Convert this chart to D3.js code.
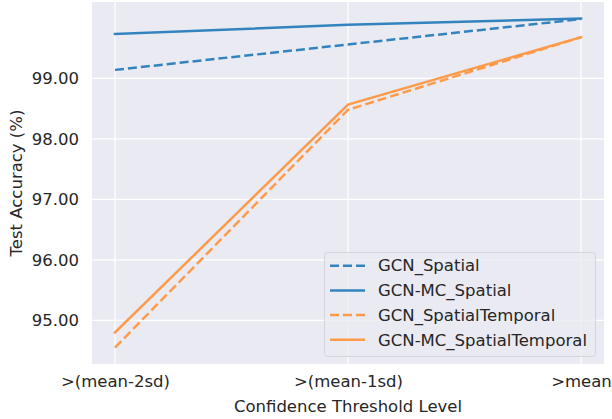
<!DOCTYPE html>
<html><head><meta charset="utf-8">
<script src="https://cdn.jsdelivr.net/npm/d3@7"></script>
<style>body{margin:0;background:#fff}svg{display:block}text{font-family:"DejaVu Sans",sans-serif;fill:#262626}</style>
</head><body><svg id="c" width="612" height="419"></svg>
<script>
const categories = [">(mean-2sd)", ">(mean-1sd)", ">mean"];
const seriesNames = ["GCN_Spatial", "GCN-MC_Spatial", "GCN_SpatialTemporal", "GCN-MC_SpatialTemporal"];
const gcnSpatial = [99.14, 99.56, 99.98];
const gcnMcSpatial = [99.735, 99.885, 99.99];
const gcnSpatialTemporal = [94.55, 98.48, 99.68];
const gcnMcSpatialTemporal = [94.80, 98.565, 99.68];
const yTicks = [95, 96, 97, 98, 99];

const series = [
  {name: seriesNames[0], values: gcnSpatial, color: "#3283be", dash: "9,4"},
  {name: seriesNames[1], values: gcnMcSpatial, color: "#3283be", dash: null},
  {name: seriesNames[2], values: gcnSpatialTemporal, color: "#fd9b4b", dash: "9,4"},
  {name: seriesNames[3], values: gcnMcSpatialTemporal, color: "#fd9b4b", dash: null}
];

const svg = d3.select("#c");
const L = 92, R = 604, T = 2, B = 364;
const x = d3.scalePoint().domain(categories).range([115, 581]);
const all = series.flatMap(s => s.values);
const mn = d3.min(all), mx = d3.max(all), pad = (mx - mn) * 0.05;
const y = d3.scaleLinear().domain([mn - pad, mx + pad]).range([B, T]);

svg.append("rect").attr("x", L).attr("y", T).attr("width", R - L).attr("height", B - T).attr("fill", "#eaeaf2");

const g = svg.append("g");
g.selectAll(".gy").data(yTicks).join("line")
  .attr("x1", L).attr("x2", R).attr("y1", d => y(d)).attr("y2", d => y(d))
  .attr("stroke", "#fff").attr("stroke-width", 1.2);
g.selectAll(".gx").data(categories).join("line")
  .attr("y1", T).attr("y2", B).attr("x1", d => x(d)).attr("x2", d => x(d))
  .attr("stroke", "#fff").attr("stroke-width", 1.2);

// axes (tick labels only)
const yAxis = d3.axisLeft(y).tickValues(yTicks).tickFormat(d3.format(".2f")).tickSize(0).tickPadding(13);
const ya = svg.append("g").attr("transform", `translate(${L},0)`).call(yAxis);
ya.select(".domain").remove();
ya.selectAll("text").attr("font-size", 16.5).attr("fill", "#262626").attr("font-family", "DejaVu Sans");

const xAxis = d3.axisBottom(x).tickSize(0).tickPadding(11);
const xa = svg.append("g").attr("transform", `translate(0,${B})`).call(xAxis);
xa.select(".domain").remove();
xa.selectAll("text").attr("font-size", 16.5).attr("fill", "#262626").attr("font-family", "DejaVu Sans");

svg.append("text").attr("x", 348).attr("y", 412).attr("text-anchor", "middle").attr("font-size", 16.5).text("Confidence Threshold Level");
svg.append("text").attr("transform", "translate(22,183) rotate(-90)").attr("text-anchor", "middle").attr("font-size", 16.5).text("Test Accuracy (%)");

const line = d3.line().x((d, i) => x(categories[i])).y(d => y(d));
series.forEach(s => {
  svg.append("path").attr("d", line(s.values)).attr("fill", "none")
    .attr("stroke", s.color).attr("stroke-width", 2.5)
    .attr("stroke-dasharray", s.dash).attr("stroke-linecap", s.dash ? "butt" : "square");
});

// legend
const lg = svg.append("g");
lg.append("rect").attr("x", 324.5).attr("y", 252.5).attr("width", 271).attr("height", 104).attr("rx", 3)
  .attr("fill", "#eaeaf2").attr("fill-opacity", 0.8).attr("stroke", "#d4d4dc").attr("stroke-width", 1);
series.forEach((s, i) => {
  const yy = 265.7 + i * 24.7;
  lg.append("line").attr("x1", 330).attr("x2", 365).attr("y1", yy).attr("y2", yy)
    .attr("stroke", s.color).attr("stroke-width", 2.5).attr("stroke-dasharray", s.dash);
  lg.append("text").attr("x", 378).attr("y", yy).attr("dy", "0.35em").attr("font-size", 16.5).text(s.name);
});
</script></body></html>
